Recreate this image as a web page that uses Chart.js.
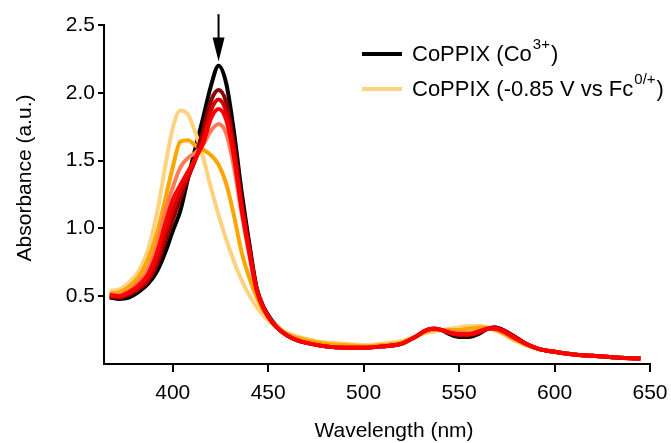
<!DOCTYPE html>
<html>
<head>
<meta charset="utf-8">
<script src="https://cdn.jsdelivr.net/npm/chart.js@4.4.1/dist/chart.umd.min.js"></script>
<style>
  html, body { margin: 0; padding: 0; background: #fff; }
  #wrap { width: 671px; height: 443px; }
</style>
</head>
<body>
<div id="wrap"><canvas id="uvvis" width="671" height="443"></canvas></div>
<script>
// wavelength (nm) shared by every spectrum
const wavelength = [367, 372, 377, 382, 387, 392, 396, 400, 404, 408, 412, 416, 420, 424, 428, 432, 436, 440, 444, 448, 452, 456, 460, 466, 472, 480, 490, 500, 510, 520, 527, 533, 537, 541, 545, 550, 555, 560, 565, 569, 573, 578, 585, 592, 600, 610, 620, 630, 645];

const absCo3 = [0.49, 0.48, 0.49, 0.53, 0.59, 0.69, 0.82, 0.98, 1.13, 1.37, 1.60, 1.82, 2.05, 2.20, 2.07, 1.72, 1.28, 0.90, 0.56, 0.41, 0.32, 0.26, 0.21, 0.17, 0.15, 0.13, 0.12, 0.12, 0.13, 0.15, 0.20, 0.25, 0.26, 0.25, 0.22, 0.20, 0.20, 0.22, 0.26, 0.27, 0.25, 0.21, 0.15, 0.11, 0.09, 0.07, 0.06, 0.05, 0.04];
const absStep1 = [0.50, 0.49, 0.51, 0.55, 0.61, 0.74, 0.90, 1.06, 1.22, 1.37, 1.53, 1.73, 1.94, 2.02, 1.93, 1.63, 1.22, 0.87, 0.55, 0.40, 0.31, 0.25, 0.21, 0.17, 0.15, 0.13, 0.12, 0.12, 0.13, 0.15, 0.20, 0.25, 0.26, 0.25, 0.23, 0.21, 0.21, 0.23, 0.26, 0.27, 0.25, 0.21, 0.15, 0.11, 0.09, 0.07, 0.06, 0.05, 0.04];
const absStep2 = [0.50, 0.50, 0.52, 0.56, 0.63, 0.78, 0.96, 1.13, 1.27, 1.38, 1.51, 1.67, 1.87, 1.95, 1.86, 1.58, 1.18, 0.85, 0.55, 0.40, 0.31, 0.25, 0.21, 0.17, 0.15, 0.13, 0.12, 0.12, 0.13, 0.15, 0.20, 0.25, 0.26, 0.25, 0.23, 0.22, 0.22, 0.23, 0.26, 0.265, 0.25, 0.21, 0.15, 0.11, 0.09, 0.07, 0.06, 0.05, 0.04];
const absStep3 = [0.51, 0.50, 0.53, 0.58, 0.66, 0.83, 1.03, 1.21, 1.32, 1.42, 1.52, 1.63, 1.81, 1.88, 1.80, 1.53, 1.15, 0.83, 0.54, 0.40, 0.31, 0.25, 0.21, 0.17, 0.15, 0.13, 0.12, 0.12, 0.13, 0.15, 0.20, 0.25, 0.26, 0.25, 0.23, 0.22, 0.22, 0.24, 0.26, 0.26, 0.24, 0.20, 0.15, 0.11, 0.09, 0.07, 0.06, 0.05, 0.04];
const absStep4 = [0.51, 0.51, 0.54, 0.60, 0.70, 0.89, 1.12, 1.30, 1.45, 1.52, 1.56, 1.62, 1.72, 1.77, 1.70, 1.46, 1.12, 0.81, 0.54, 0.40, 0.31, 0.25, 0.21, 0.17, 0.15, 0.13, 0.12, 0.12, 0.13, 0.15, 0.20, 0.25, 0.26, 0.25, 0.24, 0.23, 0.23, 0.24, 0.26, 0.26, 0.24, 0.20, 0.15, 0.11, 0.09, 0.07, 0.06, 0.05, 0.04];
const absStep5 = [0.52, 0.53, 0.57, 0.64, 0.77, 0.98, 1.21, 1.45, 1.64, 1.65, 1.61, 1.58, 1.54, 1.47, 1.33, 1.10, 0.83, 0.64, 0.49, 0.38, 0.31, 0.26, 0.22, 0.19, 0.17, 0.15, 0.14, 0.13, 0.14, 0.16, 0.20, 0.24, 0.25, 0.25, 0.25, 0.25, 0.26, 0.27, 0.27, 0.25, 0.23, 0.19, 0.14, 0.11, 0.09, 0.07, 0.06, 0.05, 0.04];
const absReduced = [0.54, 0.55, 0.60, 0.68, 0.84, 1.13, 1.45, 1.74, 1.87, 1.84, 1.70, 1.52, 1.30, 1.10, 0.92, 0.76, 0.62, 0.51, 0.42, 0.35, 0.30, 0.26, 0.23, 0.20, 0.18, 0.16, 0.15, 0.14, 0.15, 0.17, 0.20, 0.23, 0.24, 0.25, 0.26, 0.27, 0.28, 0.28, 0.27, 0.25, 0.22, 0.18, 0.14, 0.11, 0.09, 0.07, 0.06, 0.05, 0.04];

const xTicks = [400, 450, 500, 550, 600, 650];
const yTicks = [0.5, 1.0, 1.5, 2.0, 2.5];

// first dataset is drawn on top
const series = [
  { label: '', data: absStep3, color: '#ff0000' },
  { label: '', data: absStep2, color: '#d40000' },
  { label: '', data: absStep4, color: '#ff7b55' },
  { label: '', data: absStep1, color: '#8e0000' },
  { label: '', data: absStep5, color: '#ffa500' },
  { label: 'CoPPIX (-0.85 V vs Fc|0/+|)', data: absReduced, color: '#ffd27f' },
  { label: 'CoPPIX (Co|3+|)', data: absCo3, color: '#000000' }
];
const legendOrder = [6, 5];

const FONT = '"Liberation Sans", Arial, sans-serif';

// text with |superscript| parts
function drawRich(ctx, str, x, y, size) {
  const parts = str.split('|');
  parts.forEach((p, i) => {
    if (i % 2 === 1) {
      ctx.font = Math.round(size * 0.66) + 'px ' + FONT;
      ctx.fillText(p, x + 1, y - size * 0.45);
      x += 2;
    } else {
      ctx.font = size + 'px ' + FONT;
      ctx.fillText(p, x, y);
    }
    x += ctx.measureText(p).width;
  });
}

const extras = {
  id: 'extras',
  afterDatasetsDraw(chart) {
    const ctx = chart.ctx;
    const xs = chart.scales.x, ys = chart.scales.y;
    ctx.save();

    // arrow above the Soret band
    const ax = xs.getPixelForValue(424);
    const top = ys.getPixelForValue(2.58);
    const tip = ys.getPixelForValue(2.23);
    ctx.strokeStyle = '#000';
    ctx.fillStyle = '#000';
    ctx.lineWidth = 2;
    ctx.beginPath();
    ctx.moveTo(ax, top);
    ctx.lineTo(ax, tip - 20);
    ctx.stroke();
    ctx.beginPath();
    ctx.moveTo(ax - 6, tip - 24);
    ctx.lineTo(ax + 6, tip - 24);
    ctx.lineTo(ax, tip);
    ctx.closePath();
    ctx.fill();

    // legend
    ctx.textBaseline = 'middle';
    ctx.textAlign = 'left';
    legendOrder.forEach((idx, row) => {
      const s = series[idx];
      const y = 54 + row * 35;
      ctx.strokeStyle = s.color;
      ctx.lineWidth = 4;
      ctx.beginPath();
      ctx.moveTo(362, y);
      ctx.lineTo(402, y);
      ctx.stroke();
      ctx.fillStyle = '#000';
      drawRich(ctx, s.label, 412, y + 1, 22);
    });

    // axis titles
    ctx.fillStyle = '#000';
    ctx.font = '21px ' + FONT;
    ctx.textAlign = 'center';
    ctx.fillText('Wavelength (nm)', 394, 431);
    ctx.translate(25, 178);
    ctx.rotate(-Math.PI / 2);
    ctx.fillText('Absorbance (a.u.)', 0, 0);
    ctx.restore();
  }
};

new Chart(document.getElementById('uvvis'), {
  type: 'line',
  data: {
    datasets: series.map(s => ({
      label: s.label,
      data: wavelength.map((w, i) => ({ x: w, y: s.data[i] })),
      borderColor: s.color,
      borderWidth: 4,
      pointRadius: 0,
      fill: false,
      cubicInterpolationMode: 'monotone'
    }))
  },
  options: {
    responsive: false,
    animation: false,
    layout: { padding: { left: 0, top: 25, right: 21, bottom: 0 } },
    plugins: { legend: { display: false }, tooltip: { enabled: false } },
    scales: {
      x: {
        type: 'linear',
        min: 364,
        max: 650,
        afterBuildTicks: s => { s.ticks = xTicks.map(v => ({ value: v })); },
        afterFit: s => { s.height = 79; s.paddingLeft = 0; s.paddingRight = 0; },
        border: { display: true, color: '#000', width: 2 },
        grid: { drawOnChartArea: false, drawTicks: true, tickLength: 8, color: '#000', lineWidth: 2 },
        ticks: { color: '#000', font: { family: FONT, size: 21 }, padding: 9, maxRotation: 0 }
      },
      y: {
        min: 0,
        max: 2.5,
        afterBuildTicks: s => { s.ticks = yTicks.map(v => ({ value: v })); },
        afterFit: s => { s.width = 104; s.paddingTop = 0; s.paddingBottom = 0; },
        border: { display: true, color: '#000', width: 2 },
        grid: { drawOnChartArea: false, drawTicks: true, tickLength: 6, color: '#000', lineWidth: 2 },
        ticks: { color: '#000', font: { family: FONT, size: 21 }, padding: 3, callback: v => v.toFixed(1) }
      }
    }
  },
  plugins: [extras]
});
</script>
</body>
</html>
